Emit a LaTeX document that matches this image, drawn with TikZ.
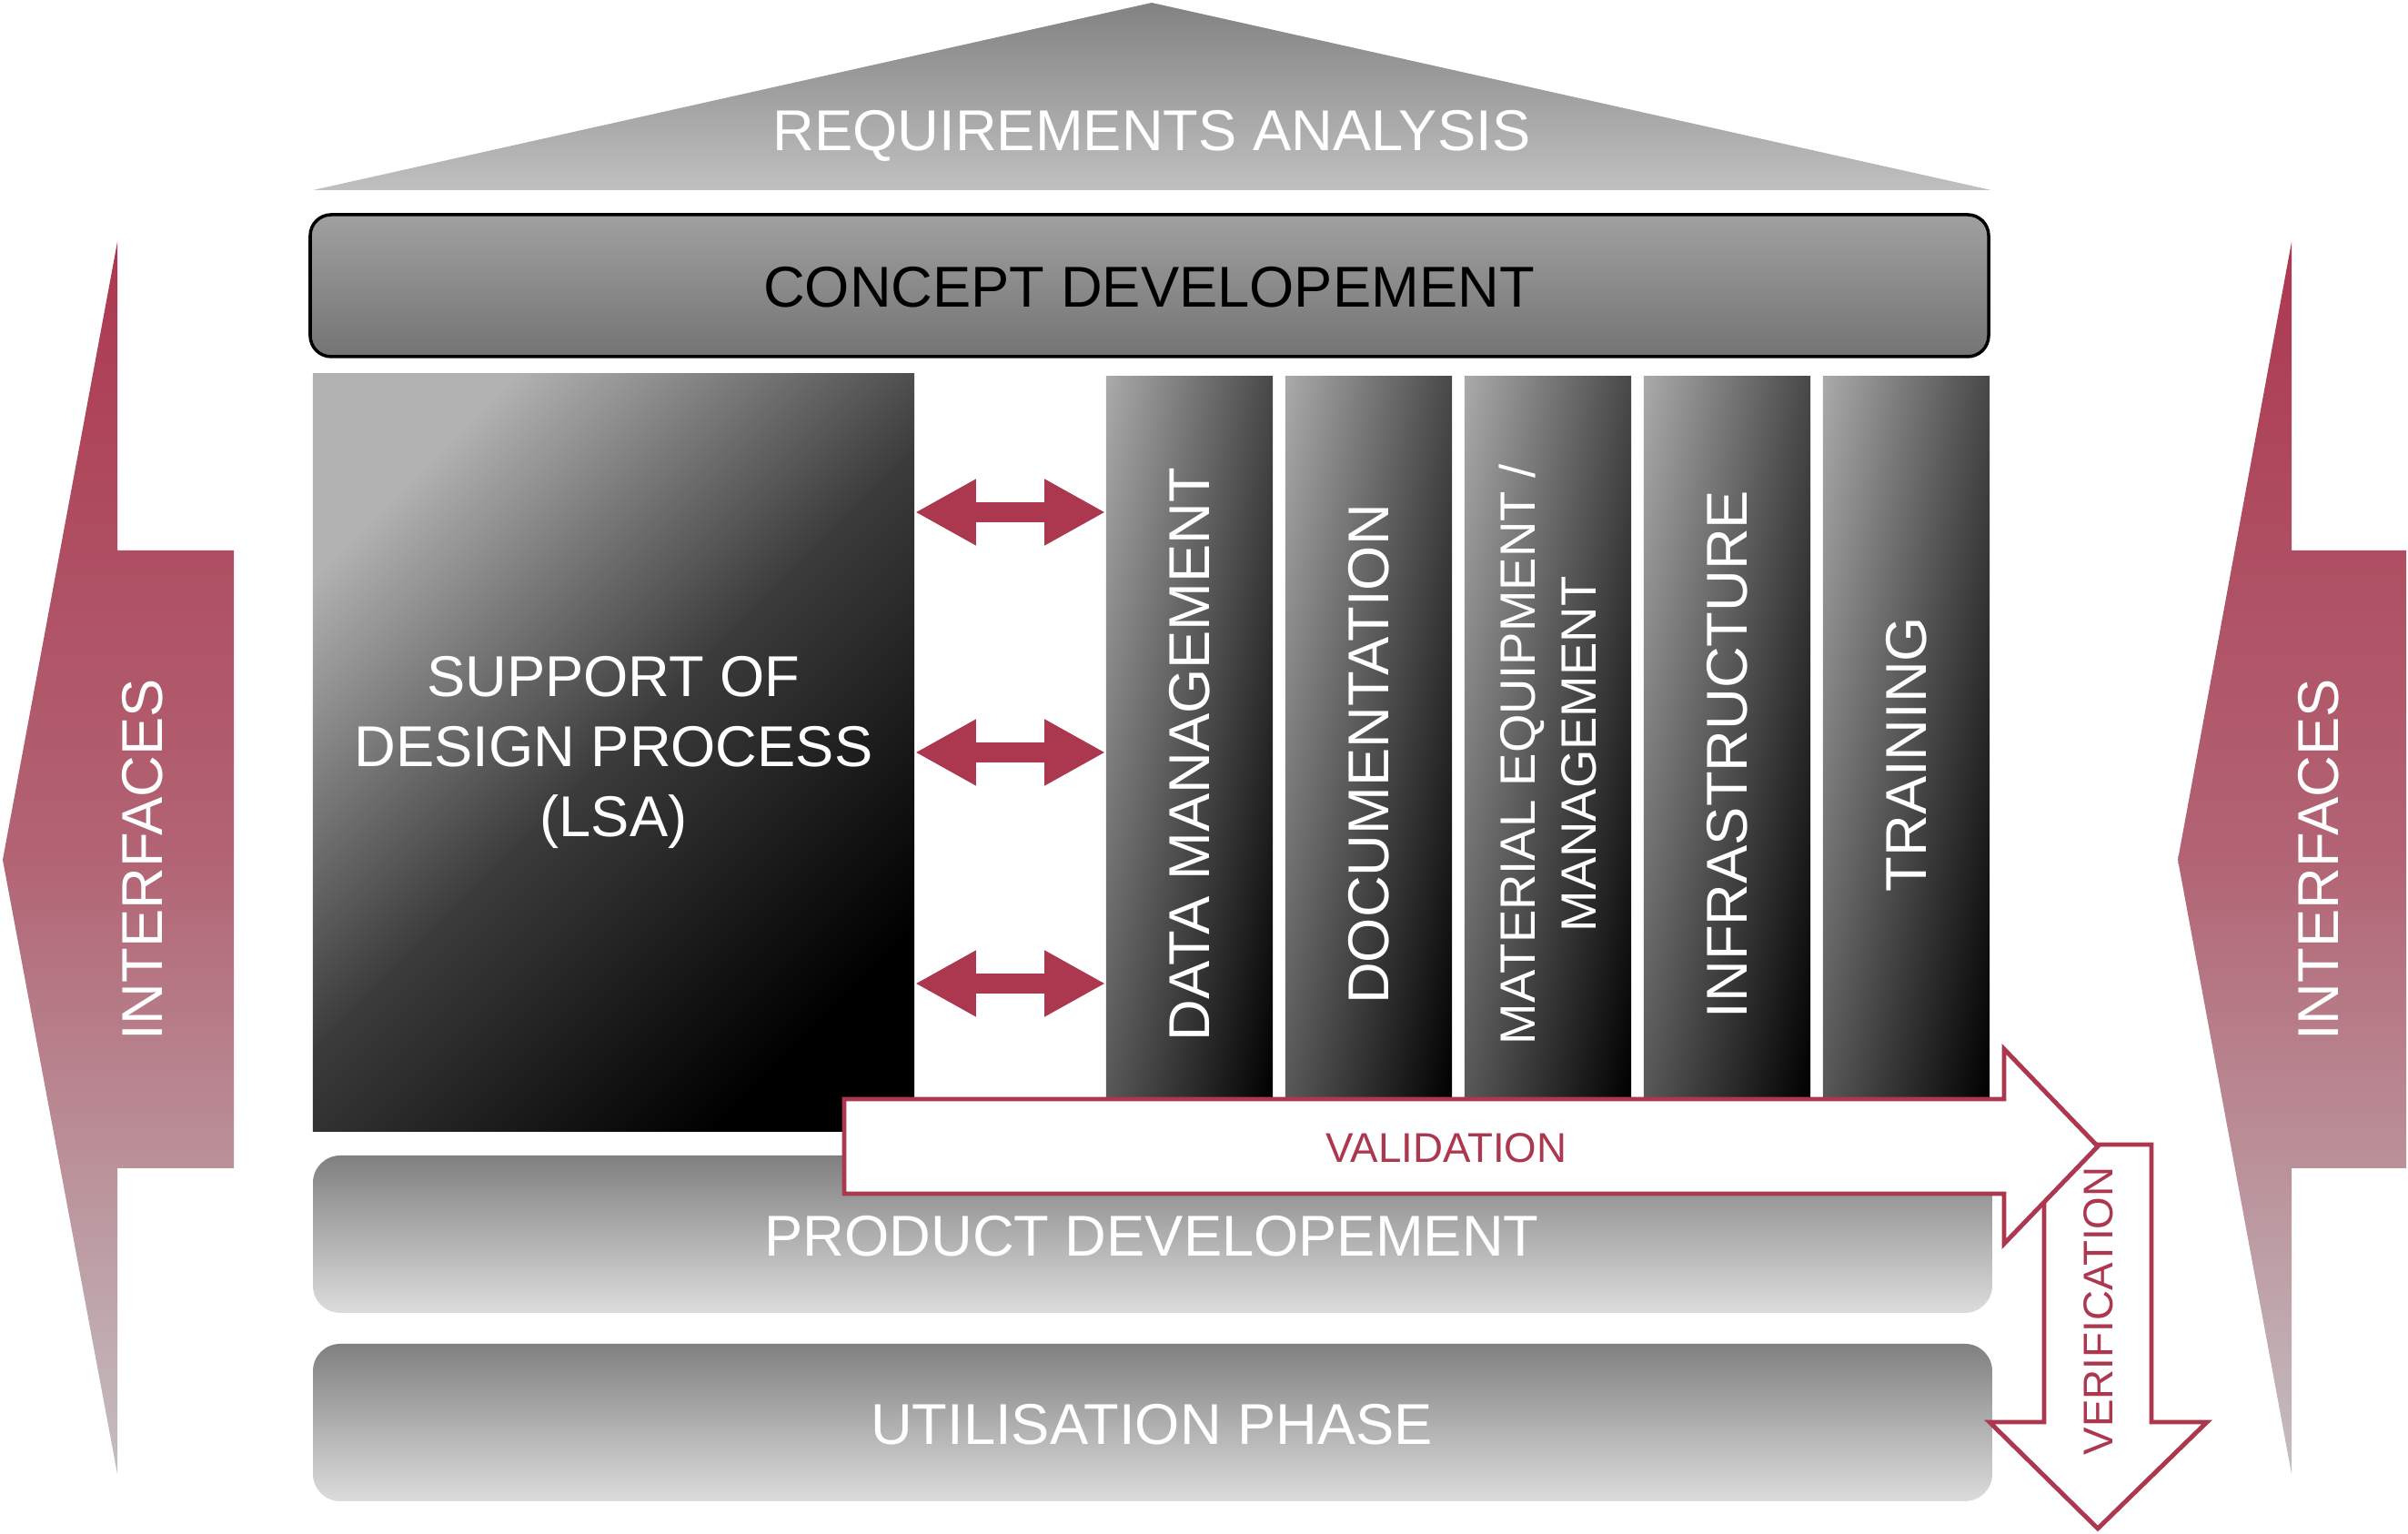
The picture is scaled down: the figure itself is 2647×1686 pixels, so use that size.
\documentclass[tikz,border=0pt]{standalone}
\usepackage{fontspec}
\setmainfont{Liberation Sans}
\usepackage{tikz}
\usetikzlibrary{arrows.meta,positioning,calc,shadings}

\definecolor{crimson}{RGB}{172,56,80}
\definecolor{facemid}{RGB}{178,100,116}
\definecolor{facebot}{RGB}{196,190,192}
\definecolor{rooftop}{RGB}{130,130,130}
\definecolor{roofbot}{RGB}{192,192,192}
\definecolor{concepttop}{RGB}{160,160,160}
\definecolor{conceptbot}{RGB}{116,116,116}
\definecolor{pilltop}{RGB}{178,178,178}
\definecolor{pillmid}{RGB}{66,66,66}
\definecolor{pillul}{RGB}{170,170,170}
\definecolor{pillur}{RGB}{72,72,72}
\definecolor{pillll}{RGB}{88,88,88}
\definecolor{phasetop}{RGB}{128,128,128}
\definecolor{phasebot}{RGB}{220,220,220}

\begin{document}
\begin{tikzpicture}[x=0.01cm,y=-0.01cm,
    lbl/.style={font=\fontsize{18}{22}\selectfont,text=white},
    tag/.style={font=\fontsize{13}{16}\selectfont,text=crimson},
    pillar/.style={minimum width=1.83cm,minimum height=7.91cm,inner sep=0pt,
      upper left=pillul,upper right=pillur,lower left=pillll,lower right=black},
    face/.style={top color=crimson,bottom color=facebot,middle color=facemid},
    phase/.style={top color=phasetop,bottom color=phasebot,rounded corners=0.3cm},
    flow/.style={draw=crimson,line width=1.4pt,fill=white},
    link/.style={crimson,line width=0.22cm,
      {Triangle[length=0.67cm,width=0.68cm]}-{Triangle[length=0.67cm,width=0.68cm]}}]
  \useasboundingbox (0,0) rectangle (2647,1686);

  \shade[face] (3,945) -- (129,266) -- (129,605) -- (257,605) -- (257,1284)
     -- (129,1284) -- (129,1620) -- cycle;
  \shade[face] (2394,945) -- (2519,266) -- (2519,605) -- (2645,605) -- (2645,1284)
     -- (2519,1284) -- (2519,1620) -- cycle;
  \node[lbl,rotate=90] (ifleft) at (157,945) {INTERFACES};
  \node[lbl,rotate=90] (ifright) at (2549,945) {INTERFACES};

  \shade[top color=rooftop,bottom color=roofbot] (344,209) -- (1266,3) -- (2189,209) -- cycle;
  \node[lbl] (req) at (1266,149) {REQUIREMENTS ANALYSIS};

  \draw[line width=1pt,top color=concepttop,bottom color=conceptbot,rounded corners=0.23cm]
     (341,236) rectangle (2186,392);
  \node[lbl,text=black] (concept) at (1263,316) {CONCEPT DEVELOPEMENT};

  \node[lbl,align=center,minimum width=6.61cm,minimum height=8.32cm,
     top color=pilltop,bottom color=black,middle color=pillmid!90!black,shading angle=45]
     (sup) at (674.5,827) {SUPPORT OF\\DESIGN PROCESS\\(LSA)};

  \foreach \x/\n in {1307.5/p1,1504.5/p2,1701.5/p3,1898.5/p4,2095.5/p5}
    \node[pillar] (\n) at (\x,809.5) {};
  \node[lbl,rotate=90] (data) at (1307.5,829) {DATA MANAGEMENT};
  \node[lbl,rotate=90] (docu) at (1504.5,829) {DOCUMENTATION};
  \node[lbl,rotate=90,align=center,font=\fontsize{15.5}{19}\selectfont]
     (mat) at (1701.5,829) {MATERIAL EQUIPMENT /\\MANAGEMENT};
  \node[lbl,rotate=90] (infra) at (1898.5,829) {INFRASTRUCTURE};
  \node[lbl,rotate=90] (train) at (2095.5,829) {TRAINING};

  \draw[link] (sup.east |- 0,563) -- (p1.west |- 0,563);
  \draw[link] (sup.east |- 0,827) -- (p1.west |- 0,827);
  \draw[link] (sup.east |- 0,1081) -- (p1.west |- 0,1081);

  \shade[phase] (344,1270) rectangle (2190,1443);
  \shade[phase] (344,1477) rectangle (2190,1650);
  \node[lbl] (prod) at (1266,1359) {PRODUCT DEVELOPEMENT};
  \node[lbl] (use) at (1266,1566) {UTILISATION PHASE};

  \draw[flow] (2247,1258) -- (2365,1258) -- (2365,1563) -- (2426,1563) -- (2306,1680)
     -- (2187,1563) -- (2247,1563) -- cycle;
  \draw[flow] (928,1208) -- (2203,1208) -- (2203,1153) -- (2306,1260) -- (2203,1367)
     -- (2203,1312) -- (928,1312) -- cycle;
  \node[tag] (val) at (1590,1262) {VALIDATION};
  \node[tag,rotate=90] (ver) at (2307,1441) {VERIFICATION};
\end{tikzpicture}
\end{document}
